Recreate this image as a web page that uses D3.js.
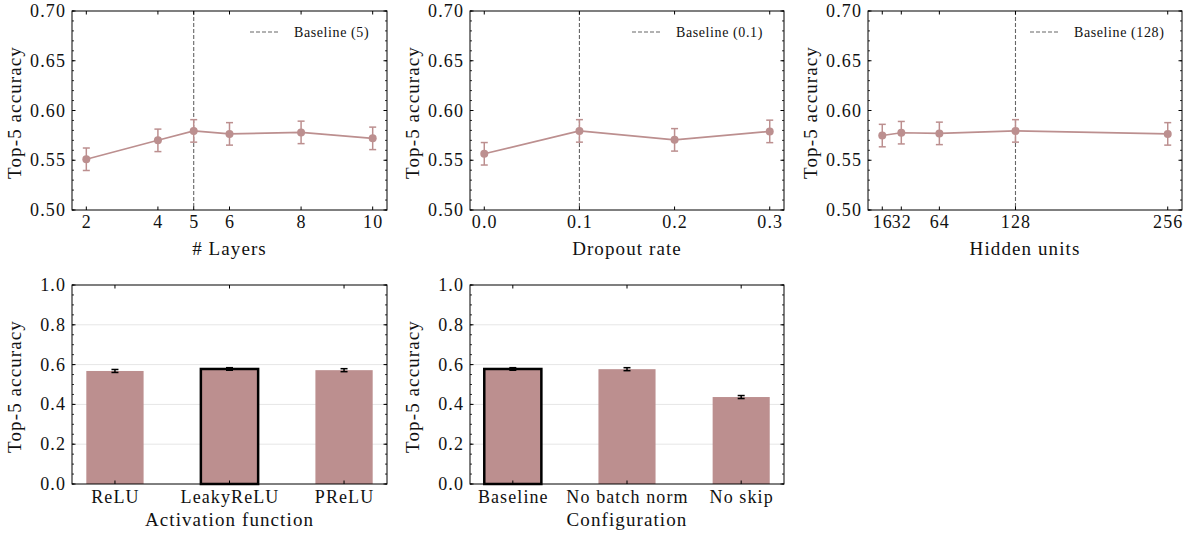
<!DOCTYPE html>
<html>
<head>
<meta charset="utf-8">
<script src="https://cdn.jsdelivr.net/npm/d3@7"></script>
<style>
  body { margin: 0; background: #fff; }
  text { font-family: "Liberation Serif", "DejaVu Serif", serif; fill: #111; letter-spacing: 1.1px; }
  text.legend { letter-spacing: 0.6px; }
</style>
</head>
<body>
<div id="vis"></div>
<script>
// sweep data
var layers = [2, 4, 5, 6, 8, 10];
var layersAcc = [0.551, 0.570, 0.5795, 0.5765, 0.578, 0.572];
var dropout = [0.0, 0.1, 0.2, 0.3];
var dropoutAcc = [0.5565, 0.5795, 0.5705, 0.579];
var hidden = [16, 32, 64, 128, 256];
var hiddenAcc = [0.5748, 0.5777, 0.577, 0.5795, 0.5765];
var sweepErr = 0.0113;

var activations = ["ReLU", "LeakyReLU", "PReLU"];
var activationAcc = [0.568, 0.578, 0.572];
var activationErr = [0.0075, 0.0065, 0.0075];
var configs = ["Baseline", "No batch norm", "No skip"];
var configAcc = [0.578, 0.577, 0.437];
var configErr = [0.0065, 0.0075, 0.0075];

var C = "#bc8f8f"; // rosybrown

var W = 1187, H = 535;
var svg = d3.select("#vis").append("svg").attr("width", W).attr("height", H);

var cols = [[72, 387], [470, 784], [868, 1182]];
var topRow = [11, 210], botRow = [285, 484];

// inward ticks on all four sides
function frame(g, x, y, xt, yMajor, yMinor, fmtY, box) {
  var [x0, x1, y0, y1] = box;
  yMinor.forEach(function(v) {
    g.append("line").attr("x1", x0).attr("x2", x0 + 2).attr("y1", y(v)).attr("y2", y(v)).attr("stroke", "#000").attr("stroke-width", 0.8);
    g.append("line").attr("x1", x1).attr("x2", x1 - 2).attr("y1", y(v)).attr("y2", y(v)).attr("stroke", "#000").attr("stroke-width", 0.8);
  });
  yMajor.forEach(function(v) {
    g.append("line").attr("x1", x0).attr("x2", x0 + 3.5).attr("y1", y(v)).attr("y2", y(v)).attr("stroke", "#000").attr("stroke-width", 1);
    g.append("line").attr("x1", x1).attr("x2", x1 - 3.5).attr("y1", y(v)).attr("y2", y(v)).attr("stroke", "#000").attr("stroke-width", 1);
    g.append("text").attr("x", x0 - 6).attr("y", y(v) + 6).attr("text-anchor", "end")
      .style("font-size", "18px").text(fmtY(v));
  });
  xt.forEach(function(v) {
    g.append("line").attr("x1", x(v)).attr("x2", x(v)).attr("y1", y1).attr("y2", y1 - 3.5).attr("stroke", "#000").attr("stroke-width", 1);
    g.append("line").attr("x1", x(v)).attr("x2", x(v)).attr("y1", y0).attr("y2", y0 + 3.5).attr("stroke", "#000").attr("stroke-width", 1);
  });
  g.append("rect").attr("x", x0).attr("y", y0).attr("width", x1 - x0).attr("height", y1 - y0)
    .attr("fill", "none").attr("stroke", "#000").attr("stroke-width", 1);
}

function yLabel(g, x0, y0, y1) {
  g.append("text").attr("transform", "translate(" + (x0 - 51) + "," + ((y0 + y1) / 2 + 2) + ") rotate(-90)")
    .attr("text-anchor", "middle").style("font-size", "19px").text("Top-5 accuracy");
}

function linePanel(col, xs, ys, xdom, xlabel, base, baseLabel, fmtX) {
  var [x0, x1] = cols[col], [y0, y1] = topRow;
  var g = svg.append("g");
  var x = d3.scaleLinear().domain(xdom).range([x0, x1]);
  var y = d3.scaleLinear().domain([0.5, 0.7]).range([y1, y0]);
  var minor = d3.range(0, 21).map(function(i) { return 0.5 + i * 0.01; });
  var major = [0.5, 0.55, 0.6, 0.65, 0.7];

  // baseline marker
  g.append("line").attr("x1", x(base)).attr("x2", x(base)).attr("y1", y0).attr("y2", y1)
    .attr("stroke", "#666").attr("stroke-width", 1.1).attr("stroke-dasharray", "4,2");

  var pts = xs.map(function(v, i) { return [v, ys[i]]; });
  g.append("path").datum(pts)
    .attr("d", d3.line().x(function(d) { return x(d[0]); }).y(function(d) { return y(d[1]); }))
    .attr("fill", "none").attr("stroke", C).attr("stroke-width", 1.6);
  pts.forEach(function(d) {
    var cx = x(d[0]);
    g.append("line").attr("x1", cx).attr("x2", cx).attr("y1", y(d[1] - sweepErr)).attr("y2", y(d[1] + sweepErr)).attr("stroke", C).attr("stroke-width", 1.5);
    [d[1] - sweepErr, d[1] + sweepErr].forEach(function(v) {
      g.append("line").attr("x1", cx - 3.5).attr("x2", cx + 3.5).attr("y1", y(v)).attr("y2", y(v)).attr("stroke", C).attr("stroke-width", 1.5);
    });
    g.append("circle").attr("cx", cx).attr("cy", y(d[1])).attr("r", 4).attr("fill", C);
  });

  frame(g, x, y, xs, major, minor, d3.format(".2f"), [x0, x1, y0, y1]);

  xs.forEach(function(v) {
    g.append("text").attr("x", x(v) + 0.5).attr("y", 228).attr("text-anchor", "middle")
      .style("font-size", "18px").text(fmtX(v));
  });
  g.append("text").attr("x", (x0 + x1) / 2).attr("y", 255).attr("text-anchor", "middle")
    .style("font-size", "19px").text(xlabel);
  yLabel(g, x0, y0, y1);

  // legend
  var lx = x1 - 137, ly = 32;
  if (baseLabel.length > 12) lx = x1 - 152;
  g.append("line").attr("x1", lx).attr("x2", lx + 28).attr("y1", ly).attr("y2", ly)
    .attr("stroke", "#666").attr("stroke-width", 1.1).attr("stroke-dasharray", "4,2");
  g.append("text").attr("class", "legend").attr("x", lx + 44).attr("y", ly + 4.5)
    .style("font-size", "14px").text(baseLabel);
}

function barPanel(col, cats, vals, errs, highlight, xlabel) {
  var [x0, x1] = cols[col], [y0, y1] = botRow;
  var g = svg.append("g");
  var x = d3.scaleLinear().domain([-0.375, cats.length - 1 + 0.375]).range([x0, x1]);
  var y = d3.scaleLinear().domain([0, 1]).range([y1, y0]);
  var major = [0, 0.2, 0.4, 0.6, 0.8, 1.0];
  var minor = d3.range(0, 21).map(function(i) { return i * 0.05; });

  [0.2, 0.4, 0.6, 0.8].forEach(function(v) {
    g.append("line").attr("x1", x0).attr("x2", x1).attr("y1", y(v)).attr("y2", y(v))
      .attr("stroke", "#e6e6e6").attr("stroke-width", 1);
  });
  var idx = cats.map(function(c, i) { return i; });
  g.selectAll("rect.bar").data(idx).enter().append("rect").attr("class", "bar")
    .attr("x", function(i) { return x(i - 0.25); })
    .attr("width", function() { return x(0.25) - x(-0.25); })
    .attr("y", function(i) { return y(vals[i]); })
    .attr("height", function(i) { return y1 - y(vals[i]); })
    .attr("fill", C)
    .attr("stroke", function(i) { return i === highlight ? "#000" : "none"; })
    .attr("stroke-width", 2.5);
  idx.forEach(function(i) {
    var cx = x(i), lo = vals[i] - errs[i], hi = vals[i] + errs[i];
    g.append("line").attr("x1", cx).attr("x2", cx).attr("y1", y(lo)).attr("y2", y(hi)).attr("stroke", "#000").attr("stroke-width", 1.5);
    [lo, hi].forEach(function(v) {
      g.append("line").attr("x1", cx - 3.5).attr("x2", cx + 3.5).attr("y1", y(v)).attr("y2", y(v)).attr("stroke", "#000").attr("stroke-width", 1.5);
    });
  });

  frame(g, x, y, idx, major, minor, d3.format(".1f"), [x0, x1, y0, y1]);

  idx.forEach(function(i) {
    g.append("text").attr("x", x(i) + 0.5).attr("y", 503).attr("text-anchor", "middle")
      .style("font-size", "18px").text(cats[i]);
  });
  g.append("text").attr("x", (x0 + x1) / 2).attr("y", 526).attr("text-anchor", "middle")
    .style("font-size", "19px").text(xlabel);
  yLabel(g, x0, y0, y1);
}

linePanel(0, layers, layersAcc, [1.6, 10.4], "# Layers", 5, "Baseline (5)", d3.format("d"));
linePanel(1, dropout, dropoutAcc, [-0.015, 0.315], "Dropout rate", 0.1, "Baseline (0.1)", d3.format(".1f"));
linePanel(2, hidden, hiddenAcc, [4, 268], "Hidden units", 128, "Baseline (128)", d3.format("d"));
barPanel(0, activations, activationAcc, activationErr, 1, "Activation function");
barPanel(1, configs, configAcc, configErr, 0, "Configuration");
</script>
</body>
</html>
